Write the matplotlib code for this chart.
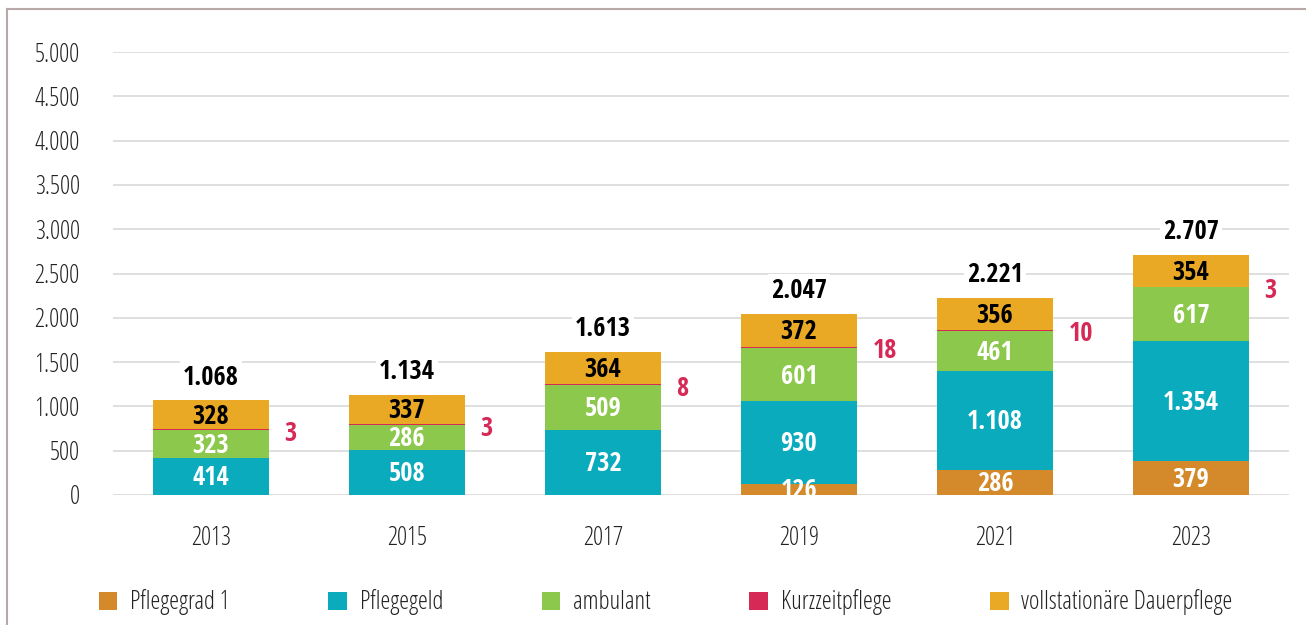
import numpy as np
import matplotlib.pyplot as plt
from matplotlib.patches import Patch
from matplotlib.lines import Line2D

# -----------------------------------------------------
# Data
# -----------------------------------------------------
years = ["2013", "2015", "2017", "2019", "2021", "2023"]
pflegegrad1 = [0, 0, 0, 126, 286, 379]
pflegegeld = [414, 508, 732, 930, 1108, 1354]
ambulant = [323, 286, 509, 601, 461, 617]
kurzzeit = [3, 3, 8, 18, 10, 3]
vollstationaer = [328, 337, 364, 372, 356, 354]

series_names = ["Pflegegrad 1", "Pflegegeld", "ambulant",
                "Kurzzeitpflege", "vollstationäre Dauerpflege"]
colors = ["#D4892A", "#0AABBD", "#8CC84B", "#D62955", "#EAA924"]

plt.rcParams['font.family'] = ['Open Sans', 'DejaVu Sans']
BOLD = ['Open Sans Condensed', 'DejaVu Sans']


def fmt(v):
    # German thousands separator
    return f"{v:,}".replace(",", ".")


fig = plt.figure(figsize=(13.06, 6.25), dpi=100)
ax = fig.add_axes([0.0865, 0.208, 0.9005, 0.7088])

x = np.arange(len(years))
width = 0.59
series = [pflegegrad1, pflegegeld, ambulant, kurzzeit, vollstationaer]
bottom = np.zeros(len(years))

for i, vals in enumerate(series):
    vals = np.array(vals, dtype=float)
    ax.bar(x, vals, width, bottom=bottom, color=colors[i], zorder=2)
    for j, v in enumerate(vals):
        if v == 0:
            continue
        yc = bottom[j] + v / 2
        if i == 3:
            # small segment: label to the right of the bar
            ax.text(x[j] + width / 2 + 0.08, yc - 40, fmt(int(v)), ha="left", va="center",
                    fontsize=19, fontweight="bold", color=colors[3],
                    family=BOLD, zorder=4)
        else:
            tc = "black" if i == 4 else "white"
            ax.text(x[j], yc - 15, fmt(int(v)), ha="center", va="center",
                    fontsize=19, fontweight="bold", color=tc,
                    family=BOLD, zorder=4)
    bottom += vals

# totals above bars
for j, tot in enumerate(bottom):
    ax.text(x[j], tot + 110, fmt(int(tot)), ha="center", va="bottom",
            fontsize=19, fontweight="bold", color="black", family=BOLD,
            bbox=dict(facecolor="white", edgecolor="none", pad=2), zorder=5)

ax.set_xlim(-0.5, len(years) - 0.5)
ax.set_ylim(0, 5000)
ax.set_yticks(np.arange(0, 5001, 500))
ax.set_yticklabels([fmt(v) for v in range(0, 5001, 500)])
ax.set_xticks(x)
ax.set_xticklabels(years)
ax.tick_params(axis="both", length=0, labelsize=18, colors="#222222")
ax.tick_params(axis="y", pad=24)
ax.tick_params(axis="x", pad=22)
for lab in ax.get_xticklabels() + ax.get_yticklabels():
    lab.set_fontstretch("condensed")
    lab.set_fontweight("light")
ax.grid(axis="y", color="#D9D9D9", linewidth=1.2, zorder=0)
for s in ax.spines.values():
    s.set_visible(False)

# legend
handles = [Patch(facecolor=c, edgecolor="none") for c in colors]
leg = fig.legend(handles, series_names, ncol=5, loc="center",
                 bbox_to_anchor=(0.5096, 0.036), frameon=False,
                 prop=dict(size=18, stretch="condensed", weight="light"),
                 handlelength=0.75, handleheight=0.75, handletextpad=0.5,
                 columnspacing=3.95)
for t in leg.get_texts():
    t.set_color("#222222")

# thin frame on left and top edges
fig.add_artist(Line2D([6.5 / 1306, 6.5 / 1306], [0, 1 - 8.5 / 625],
                      transform=fig.transFigure, color="#B8A8A8", linewidth=1.5))
fig.add_artist(Line2D([6.5 / 1306, 1], [1 - 8.5 / 625, 1 - 8.5 / 625],
                      transform=fig.transFigure, color="#B8A8A8", linewidth=1.5))

fig.savefig("out.png", dpi=100)
